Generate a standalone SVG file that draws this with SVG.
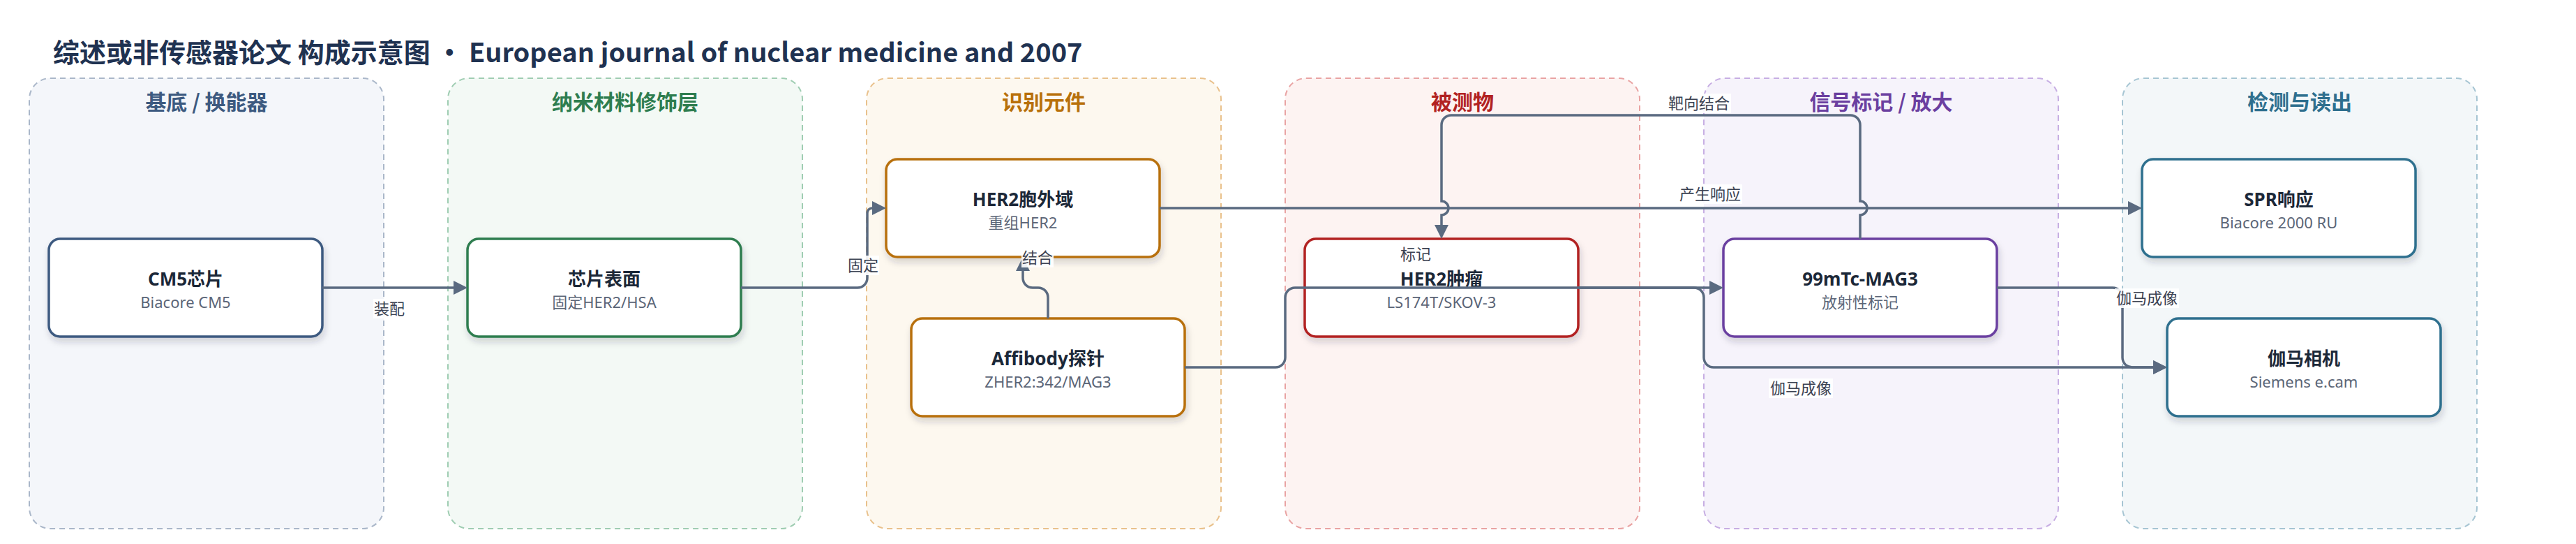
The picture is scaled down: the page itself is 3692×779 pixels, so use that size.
<svg xmlns="http://www.w3.org/2000/svg" width="3692" height="779" viewBox="0 0 3692 779">
<defs>
<style>
.title{font-family:"Noto Sans CJK SC","Noto Sans",sans-serif;font-weight:700;font-size:38px;fill:#1f3251}
.ghead{font-family:"Noto Sans CJK SC","Noto Sans",sans-serif;font-weight:700;font-size:30px;text-anchor:middle}
.grp{stroke-width:2;stroke-dasharray:8 6}
.node{fill:#ffffff;stroke-width:3.5;filter:url(#sh)}
.nt{font-family:"Noto Sans","Noto Sans CJK SC",sans-serif;font-weight:700;font-size:26px;fill:#1c2838;text-anchor:middle}
.ns{font-family:"Noto Sans","Noto Sans CJK SC",sans-serif;font-size:22px;fill:#5b6577;text-anchor:middle}
.edge{fill:none;stroke:#5a6a80;stroke-width:3.5;marker-end:url(#arr)}
.lbg{fill:#ffffff;fill-opacity:0.9}
.lt{font-family:"Noto Sans CJK SC","Noto Sans",sans-serif;font-size:22px;fill:#3b4252;text-anchor:middle}
</style>
<marker id="arr" viewBox="0 0 20 20" refX="0" refY="10" markerWidth="20" markerHeight="20" markerUnits="userSpaceOnUse" orient="auto">
<path d="M0,0 L20,10 L0,20 z" fill="#5a6a80"/>
</marker>
<filter id="sh" x="-10%" y="-20%" width="120%" height="150%">
<feDropShadow dx="2" dy="6" stdDeviation="5" flood-color="#1e2a3a" flood-opacity="0.18"/>
</filter>
</defs>
<rect x="0" y="0" width="3692" height="779" fill="#ffffff"/>
<text class="title" x="76" y="89">综述或非传感器论文 构成示意图 • European journal of nuclear medicine and 2007</text>

<g id="groups">
<g id="group-substrate"><rect class="grp" x="42" y="112" width="508" height="645" rx="30" fill="#f4f6fa" stroke="#aab7c9"/><text class="ghead" x="296" y="157" fill="#3d5a80">基底 / 换能器</text></g>
<g id="group-nano"><rect class="grp" x="642" y="112" width="508" height="645" rx="30" fill="#f3f9f5" stroke="#9fcdb2"/><text class="ghead" x="896" y="157" fill="#2e7d4f">纳米材料修饰层</text></g>
<g id="group-recog"><rect class="grp" x="1242" y="112" width="508" height="645" rx="30" fill="#fdf8ef" stroke="#e9c18c"/><text class="ghead" x="1496" y="157" fill="#b8700a">识别元件</text></g>
<g id="group-analyte"><rect class="grp" x="1842" y="112" width="508" height="645" rx="30" fill="#fdf3f2" stroke="#e9a3a3"/><text class="ghead" x="2096" y="157" fill="#b22222">被测物</text></g>
<g id="group-signal"><rect class="grp" x="2442" y="112" width="508" height="645" rx="30" fill="#f6f3fb" stroke="#c7aee3"/><text class="ghead" x="2696" y="157" fill="#6b3fa0">信号标记 / 放大</text></g>
<g id="group-detect"><rect class="grp" x="3042" y="112" width="508" height="645" rx="30" fill="#f3f7f9" stroke="#a6c5d3"/><text class="ghead" x="3296" y="157" fill="#2e6f8e">检测与读出</text></g>
</g>

<g id="node-cm5"><rect class="node" x="70" y="342" width="392" height="140" rx="16" stroke="#3d5a80"/><text class="nt" x="266" y="409">CM5芯片</text><text class="ns" x="266" y="441">Biacore CM5</text></g>
<g id="node-surface"><rect class="node" x="670" y="342" width="392" height="140" rx="16" stroke="#2e7d4f"/><text class="nt" x="866" y="409">芯片表面</text><text class="ns" x="866" y="441">固定HER2/HSA</text></g>
<g id="node-her2ecd"><rect class="node" x="1270" y="228" width="392" height="140" rx="16" stroke="#b8700a"/><text class="nt" x="1466" y="295">HER2胞外域</text><text class="ns" x="1466" y="327">重组HER2</text></g>
<g id="node-affibody"><rect class="node" x="1306" y="456" width="392" height="140" rx="16" stroke="#b8700a"/><text class="nt" x="1502" y="523">Affibody探针</text><text class="ns" x="1502" y="555">ZHER2:342/MAG3</text></g>
<g id="node-tumor"><rect class="node" x="1870" y="342" width="392" height="140" rx="16" stroke="#b22222"/><text class="nt" x="2066" y="409">HER2肿瘤</text><text class="ns" x="2066" y="441">LS174T/SKOV-3</text></g>
<g id="node-tc"><rect class="node" x="2470" y="342" width="392" height="140" rx="16" stroke="#6b3fa0"/><text class="nt" x="2666" y="409">99mTc-MAG3</text><text class="ns" x="2666" y="441">放射性标记</text></g>
<g id="node-spr"><rect class="node" x="3070" y="228" width="392" height="140" rx="16" stroke="#2e6f8e"/><text class="nt" x="3266" y="295">SPR响应</text><text class="ns" x="3266" y="327">Biacore 2000 RU</text></g>
<g id="node-gamma"><rect class="node" x="3106" y="456" width="392" height="140" rx="16" stroke="#2e6f8e"/><text class="nt" x="3302" y="523">伽马相机</text><text class="ns" x="3302" y="555">Siemens e.cam</text></g>

<g id="connectors">
<path class="edge" d="M462,412 H650"/>
<path class="edge" d="M1062,412 H1229 A14,14 0 0 0 1243,398 V305 A7,7 0 0 1 1250,298"/>
<path class="edge" d="M1502,456 V426 A14,14 0 0 0 1488,412 H1480 A14,14 0 0 1 1466,398 V388"/>
<path class="edge" d="M1662,298 H3050"/>
<path class="edge" d="M2666,342 V308 A10,10 0 0 0 2666,288 V179 A14,14 0 0 0 2652,165 H2080 A14,14 0 0 0 2066,179 V288 A10,10 0 0 1 2066,308 V322"/>
<path class="edge" d="M1698,526 H1828 A14,14 0 0 0 1842,512 V426 A14,14 0 0 1 1856,412 H2450"/>
<path class="edge" d="M2262,412 H2428 A14,14 0 0 1 2442,426 V512 A14,14 0 0 0 2456,526 H3086"/>
<path class="edge" d="M2862,412 H3028 A14,14 0 0 1 3042,426 V512 A14,14 0 0 0 3056,526 H3086"/>
<g id="edge-labels">
<rect class="lbg" x="535" y="428" width="46" height="28"/><text class="lt" x="558" y="450">装配</text>
<rect class="lbg" x="1214" y="366" width="46" height="28"/><text class="lt" x="1237" y="388">固定</text>
<rect class="lbg" x="1464" y="355" width="46" height="28"/><text class="lt" x="1487" y="377">结合</text>
<rect class="lbg" x="2405" y="264" width="92" height="28"/><text class="lt" x="2451" y="286">产生响应</text>
<rect class="lbg" x="2389" y="134" width="92" height="28"/><text class="lt" x="2435" y="156">靶向结合</text>
<rect class="lbg" x="2006" y="350" width="46" height="28"/><text class="lt" x="2029" y="372">标记</text>
<rect class="lbg" x="2535" y="542" width="92" height="28"/><text class="lt" x="2581" y="564">伽马成像</text>
<rect class="lbg" x="3031" y="413" width="92" height="28"/><text class="lt" x="3077" y="435">伽马成像</text>
</g>
</g>
</svg>
